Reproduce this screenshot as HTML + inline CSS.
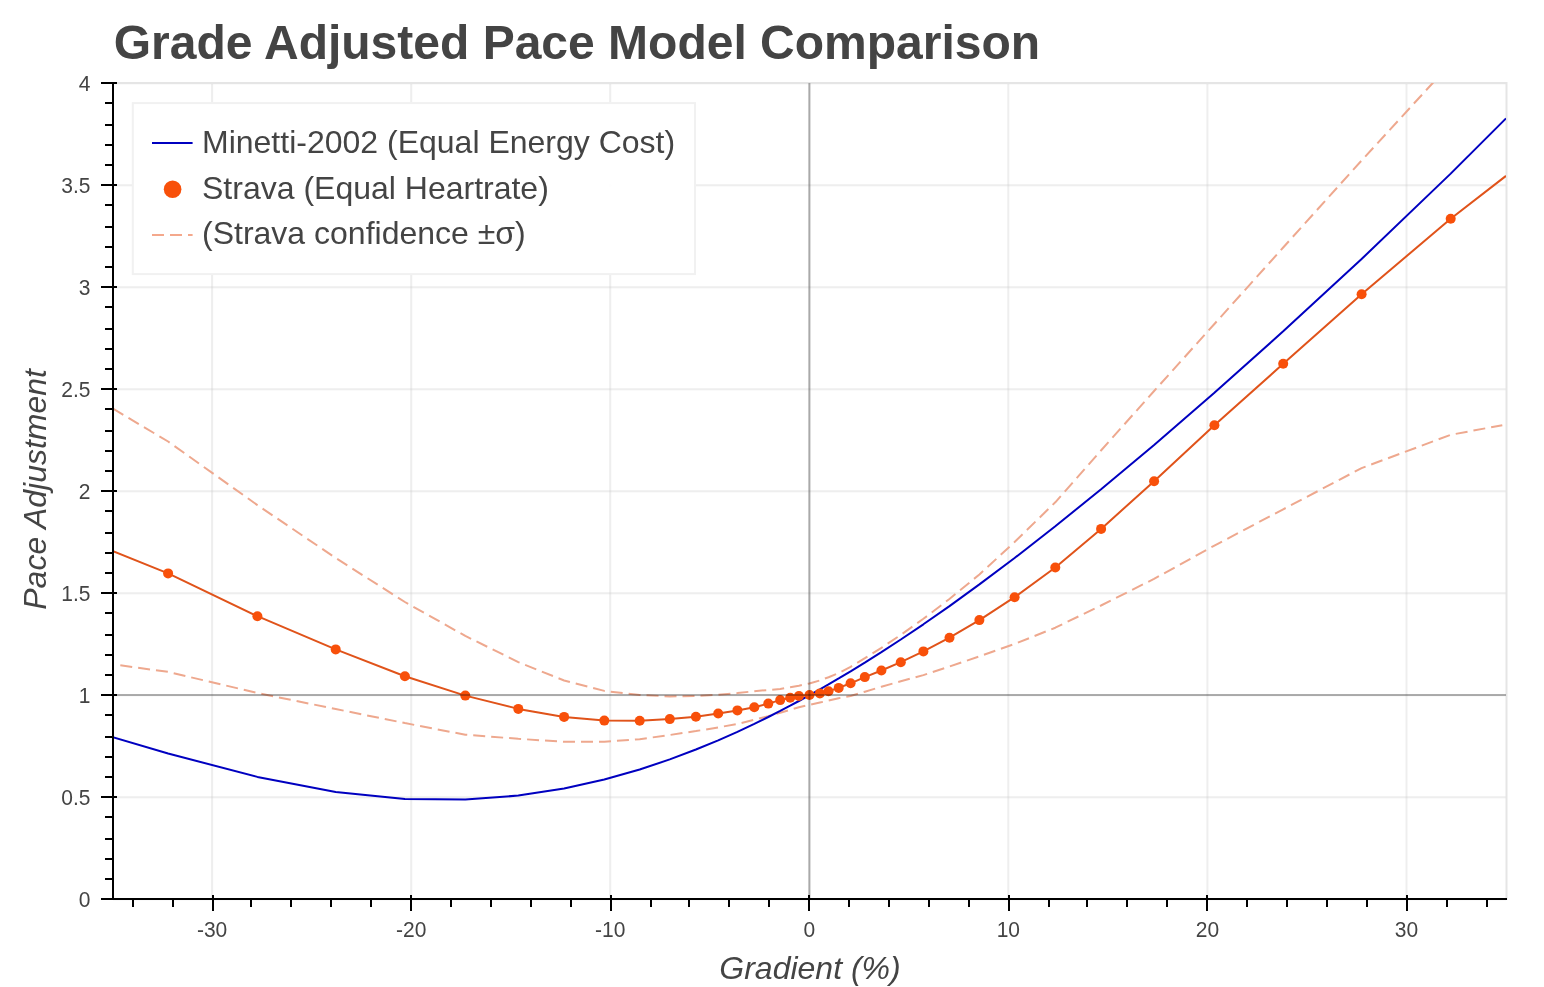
<!DOCTYPE html>
<html lang="en"><head><meta charset="utf-8">
<title>Grade Adjusted Pace Model Comparison</title>
<style>
html,body{margin:0;padding:0;background:#fff;}
body{width:1544px;height:987px;overflow:hidden;font-family:"Liberation Sans",sans-serif;}
svg{display:block;will-change:transform;}
text{font-family:"Liberation Sans",sans-serif;fill:#444;}
.tk{font-size:21px;}
.ax{font-size:32px;font-style:italic;}
.lg{font-size:32px;}
.ttl{font-size:48px;font-weight:bold;}
</style></head><body>
<svg width="1544" height="987" viewBox="0 0 1544 987">
<defs><clipPath id="fr"><rect x="113" y="83" width="1393" height="816"/></clipPath></defs>
<rect x="0" y="0" width="1544" height="987" fill="#ffffff"/>
<g stroke="#c8c8c8" stroke-opacity="0.31" stroke-width="2" fill="none">
<line x1="212.1" y1="83" x2="212.1" y2="899"/>
<line x1="411.2" y1="83" x2="411.2" y2="899"/>
<line x1="610.2" y1="83" x2="610.2" y2="899"/>
<line x1="809.3" y1="83" x2="809.3" y2="899"/>
<line x1="1008.3" y1="83" x2="1008.3" y2="899"/>
<line x1="1207.4" y1="83" x2="1207.4" y2="899"/>
<line x1="1406.5" y1="83" x2="1406.5" y2="899"/>
<line x1="113" y1="899.3" x2="1506" y2="899.3"/>
<line x1="113" y1="797.3" x2="1506" y2="797.3"/>
<line x1="113" y1="695.3" x2="1506" y2="695.3"/>
<line x1="113" y1="593.3" x2="1506" y2="593.3"/>
<line x1="113" y1="491.3" x2="1506" y2="491.3"/>
<line x1="113" y1="389.3" x2="1506" y2="389.3"/>
<line x1="113" y1="287.3" x2="1506" y2="287.3"/>
<line x1="113" y1="185.3" x2="1506" y2="185.3"/>
<line x1="113" y1="83.3" x2="1506" y2="83.3"/>
</g>
<rect x="113" y="83" width="1393.5" height="816" fill="none" stroke="#e5e5e5" stroke-width="2"/>
<g clip-path="url(#fr)" fill="none" stroke-linejoin="bevel">
<polyline id="up" points="113.0,408.7 168.1,441.5 257.4,505.1 335.7,558.0 404.9,602.0 465.3,635.9 518.3,662.1 564.1,680.5 604.3,690.9 639.7,695.0 669.8,696.4 695.9,696.0 718.2,694.7 737.4,693.1 754.3,691.2 768.3,690.0 780.2,689.0 790.2,687.3 798.9,685.7 809.4,683.5 819.9,680.4 828.6,677.2 838.6,673.1 850.6,666.8 864.9,658.2 881.4,647.8 900.8,634.9 923.4,618.8 949.4,599.0 979.4,574.5 1014.6,542.0 1055.3,502.3 1101.0,450.5 1154.1,391.0 1214.4,324.0 1283.2,247.5 1361.6,160.5 1432.3,83.5 1450.7,63.3" stroke="#eea88e" stroke-width="2" stroke-dasharray="12 6" stroke-dashoffset="0"/>
<polyline id="lo" points="120.3,665.3 168.1,671.9 257.4,693.0 335.7,709.0 404.9,723.1 465.3,734.7 518.3,738.8 564.1,741.8 604.3,741.8 639.7,739.2 669.8,735.0 695.9,731.1 718.2,727.4 737.4,724.0 754.3,719.7 768.3,716.2 780.2,712.7 790.2,709.9 798.9,707.2 809.4,704.9 819.9,702.5 828.6,700.6 838.6,698.2 850.6,696.0 864.9,691.7 881.4,686.7 900.8,681.3 923.4,675.1 949.4,666.6 979.4,656.3 1014.6,644.0 1055.3,627.7 1101.0,605.5 1154.0,578.9 1214.4,545.6 1283.2,509.3 1361.6,468.1 1450.7,434.8 1502.3,425.2" stroke="#eea88e" stroke-width="2" stroke-dasharray="12 6" stroke-dashoffset="0"/>
<polyline id="blue" points="112.6,737.2 168.1,753.5 257.4,776.9 335.7,791.9 404.9,799.0 465.3,799.6 518.3,795.6 564.1,788.5 604.3,779.5 639.7,769.5 669.8,759.4 695.9,749.5 718.2,740.3 737.4,731.8 754.3,723.8 768.3,717.0 780.2,710.9 790.2,705.7 798.9,701.0 809.5,695.2 819.9,689.3 828.5,684.4 838.7,678.4 850.6,671.3 864.8,662.6 881.4,652.1 900.8,639.5 923.4,624.3 949.5,606.1 979.4,584.4 1014.6,558.0 1055.3,526.3 1101.1,489.2 1154.1,444.9 1214.4,392.7 1283.2,331.3 1361.6,259.0 1450.7,173.6 1506.0,118.4" stroke="#0000c0" stroke-width="2"/>
<polyline id="st" points="113.0,551.2 168.1,573.4 257.4,616.2 335.7,649.4 404.9,676.2 465.3,695.6 518.3,708.9 564.1,716.9 604.3,720.6 639.7,720.7 669.8,719.1 695.9,716.7 718.2,713.5 737.4,710.4 754.3,707.2 768.3,703.6 780.2,700.1 790.2,697.7 798.9,696.0 809.5,695.0 819.9,693.4 828.5,691.2 838.7,687.9 850.6,683.3 864.8,677.1 881.4,670.5 900.8,662.2 923.4,651.4 949.5,637.7 979.4,620.1 1014.6,597.2 1055.3,567.5 1101.1,528.9 1154.1,481.2 1214.4,425.2 1283.2,363.8 1361.6,294.3 1450.7,218.7 1506.0,175.9" stroke="#e0531a" stroke-width="2"/>
<g fill="#f8500a" stroke="none">
<circle cx="168.1" cy="573.4" r="5"/>
<circle cx="257.4" cy="616.2" r="5"/>
<circle cx="335.7" cy="649.4" r="5"/>
<circle cx="404.9" cy="676.2" r="5"/>
<circle cx="465.3" cy="695.6" r="5"/>
<circle cx="518.3" cy="708.9" r="5"/>
<circle cx="564.1" cy="716.9" r="5"/>
<circle cx="604.3" cy="720.6" r="5"/>
<circle cx="639.7" cy="720.7" r="5"/>
<circle cx="669.8" cy="719.1" r="5"/>
<circle cx="695.9" cy="716.7" r="5"/>
<circle cx="718.2" cy="713.5" r="5"/>
<circle cx="737.4" cy="710.4" r="5"/>
<circle cx="754.3" cy="707.2" r="5"/>
<circle cx="768.3" cy="703.6" r="5"/>
<circle cx="780.2" cy="700.1" r="5"/>
<circle cx="790.2" cy="697.7" r="5"/>
<circle cx="798.9" cy="696.0" r="5"/>
<circle cx="809.5" cy="695.0" r="5"/>
<circle cx="819.9" cy="693.4" r="5"/>
<circle cx="828.5" cy="691.2" r="5"/>
<circle cx="838.7" cy="687.9" r="5"/>
<circle cx="850.6" cy="683.3" r="5"/>
<circle cx="864.8" cy="677.1" r="5"/>
<circle cx="881.4" cy="670.5" r="5"/>
<circle cx="900.8" cy="662.2" r="5"/>
<circle cx="923.4" cy="651.4" r="5"/>
<circle cx="949.5" cy="637.7" r="5"/>
<circle cx="979.4" cy="620.1" r="5"/>
<circle cx="1014.6" cy="597.2" r="5"/>
<circle cx="1055.3" cy="567.5" r="5"/>
<circle cx="1101.1" cy="528.9" r="5"/>
<circle cx="1154.1" cy="481.2" r="5"/>
<circle cx="1214.4" cy="425.2" r="5"/>
<circle cx="1283.2" cy="363.8" r="5"/>
<circle cx="1361.6" cy="294.3" r="5"/>
<circle cx="1450.7" cy="218.7" r="5"/>
</g>
<line x1="809.4" y1="83" x2="809.4" y2="899" stroke="#000" stroke-opacity="0.29" stroke-width="2"/>
<line x1="113" y1="695" x2="1506" y2="695" stroke="#000" stroke-opacity="0.29" stroke-width="2"/>
</g>
<g stroke="#000" stroke-width="2" fill="none">
<line x1="113" y1="82" x2="113" y2="900"/>
<line x1="112" y1="899" x2="1507" y2="899"/>
<line x1="101" y1="899.0" x2="117" y2="899.0"/>
<line x1="105" y1="879.0" x2="113" y2="879.0"/>
<line x1="105" y1="859.0" x2="113" y2="859.0"/>
<line x1="105" y1="839.0" x2="113" y2="839.0"/>
<line x1="105" y1="817.0" x2="113" y2="817.0"/>
<line x1="101" y1="797.0" x2="117" y2="797.0"/>
<line x1="105" y1="777.0" x2="113" y2="777.0"/>
<line x1="105" y1="757.0" x2="113" y2="757.0"/>
<line x1="105" y1="737.0" x2="113" y2="737.0"/>
<line x1="105" y1="715.0" x2="113" y2="715.0"/>
<line x1="101" y1="695.0" x2="117" y2="695.0"/>
<line x1="105" y1="675.0" x2="113" y2="675.0"/>
<line x1="105" y1="655.0" x2="113" y2="655.0"/>
<line x1="105" y1="635.0" x2="113" y2="635.0"/>
<line x1="105" y1="613.0" x2="113" y2="613.0"/>
<line x1="101" y1="593.0" x2="117" y2="593.0"/>
<line x1="105" y1="573.0" x2="113" y2="573.0"/>
<line x1="105" y1="553.0" x2="113" y2="553.0"/>
<line x1="105" y1="533.0" x2="113" y2="533.0"/>
<line x1="105" y1="511.0" x2="113" y2="511.0"/>
<line x1="101" y1="491.0" x2="117" y2="491.0"/>
<line x1="105" y1="471.0" x2="113" y2="471.0"/>
<line x1="105" y1="451.0" x2="113" y2="451.0"/>
<line x1="105" y1="431.0" x2="113" y2="431.0"/>
<line x1="105" y1="409.0" x2="113" y2="409.0"/>
<line x1="101" y1="389.0" x2="117" y2="389.0"/>
<line x1="105" y1="369.0" x2="113" y2="369.0"/>
<line x1="105" y1="349.0" x2="113" y2="349.0"/>
<line x1="105" y1="329.0" x2="113" y2="329.0"/>
<line x1="105" y1="307.0" x2="113" y2="307.0"/>
<line x1="101" y1="287.0" x2="117" y2="287.0"/>
<line x1="105" y1="267.0" x2="113" y2="267.0"/>
<line x1="105" y1="247.0" x2="113" y2="247.0"/>
<line x1="105" y1="227.0" x2="113" y2="227.0"/>
<line x1="105" y1="205.0" x2="113" y2="205.0"/>
<line x1="101" y1="185.0" x2="117" y2="185.0"/>
<line x1="105" y1="165.0" x2="113" y2="165.0"/>
<line x1="105" y1="145.0" x2="113" y2="145.0"/>
<line x1="105" y1="125.0" x2="113" y2="125.0"/>
<line x1="105" y1="103.0" x2="113" y2="103.0"/>
<line x1="101" y1="83.0" x2="117" y2="83.0"/>
<line x1="133.0" y1="899" x2="133.0" y2="907"/>
<line x1="173.0" y1="899" x2="173.0" y2="907"/>
<line x1="213.0" y1="895" x2="213.0" y2="911"/>
<line x1="251.0" y1="899" x2="251.0" y2="907"/>
<line x1="291.0" y1="899" x2="291.0" y2="907"/>
<line x1="331.0" y1="899" x2="331.0" y2="907"/>
<line x1="371.0" y1="899" x2="371.0" y2="907"/>
<line x1="411.0" y1="895" x2="411.0" y2="911"/>
<line x1="451.0" y1="899" x2="451.0" y2="907"/>
<line x1="491.0" y1="899" x2="491.0" y2="907"/>
<line x1="531.0" y1="899" x2="531.0" y2="907"/>
<line x1="571.0" y1="899" x2="571.0" y2="907"/>
<line x1="611.0" y1="895" x2="611.0" y2="911"/>
<line x1="651.0" y1="899" x2="651.0" y2="907"/>
<line x1="689.0" y1="899" x2="689.0" y2="907"/>
<line x1="729.0" y1="899" x2="729.0" y2="907"/>
<line x1="769.0" y1="899" x2="769.0" y2="907"/>
<line x1="809.0" y1="895" x2="809.0" y2="911"/>
<line x1="849.0" y1="899" x2="849.0" y2="907"/>
<line x1="889.0" y1="899" x2="889.0" y2="907"/>
<line x1="929.0" y1="899" x2="929.0" y2="907"/>
<line x1="969.0" y1="899" x2="969.0" y2="907"/>
<line x1="1009.0" y1="895" x2="1009.0" y2="911"/>
<line x1="1049.0" y1="899" x2="1049.0" y2="907"/>
<line x1="1087.0" y1="899" x2="1087.0" y2="907"/>
<line x1="1127.0" y1="899" x2="1127.0" y2="907"/>
<line x1="1167.0" y1="899" x2="1167.0" y2="907"/>
<line x1="1207.0" y1="895" x2="1207.0" y2="911"/>
<line x1="1247.0" y1="899" x2="1247.0" y2="907"/>
<line x1="1287.0" y1="899" x2="1287.0" y2="907"/>
<line x1="1327.0" y1="899" x2="1327.0" y2="907"/>
<line x1="1367.0" y1="899" x2="1367.0" y2="907"/>
<line x1="1407.0" y1="895" x2="1407.0" y2="911"/>
<line x1="1447.0" y1="899" x2="1447.0" y2="907"/>
<line x1="1487.0" y1="899" x2="1487.0" y2="907"/>
</g>
<g class="tk" text-anchor="end">
<text transform="translate(90.5,906.9) scale(1,1.05)" x="0" y="0">0</text>
<text transform="translate(90.5,804.9) scale(1,1.05)" x="0" y="0">0.5</text>
<text transform="translate(90.5,702.9) scale(1,1.05)" x="0" y="0">1</text>
<text transform="translate(90.5,600.9) scale(1,1.05)" x="0" y="0">1.5</text>
<text transform="translate(90.5,498.9) scale(1,1.05)" x="0" y="0">2</text>
<text transform="translate(90.5,396.9) scale(1,1.05)" x="0" y="0">2.5</text>
<text transform="translate(90.5,294.9) scale(1,1.05)" x="0" y="0">3</text>
<text transform="translate(90.5,192.9) scale(1,1.05)" x="0" y="0">3.5</text>
<text transform="translate(90.5,90.9) scale(1,1.05)" x="0" y="0">4</text>
</g>
<g class="tk" text-anchor="middle">
<text transform="translate(212.1,937.3) scale(1,1.05)" x="0" y="0">-30</text>
<text transform="translate(411.2,937.3) scale(1,1.05)" x="0" y="0">-20</text>
<text transform="translate(610.2,937.3) scale(1,1.05)" x="0" y="0">-10</text>
<text transform="translate(809.3,937.3) scale(1,1.05)" x="0" y="0">0</text>
<text transform="translate(1008.3,937.3) scale(1,1.05)" x="0" y="0">10</text>
<text transform="translate(1207.4,937.3) scale(1,1.05)" x="0" y="0">20</text>
<text transform="translate(1406.5,937.3) scale(1,1.05)" x="0" y="0">30</text>
</g>
<text class="ax" text-anchor="middle" x="810" y="978.5">Gradient (%)</text>
<text class="ax" text-anchor="middle" transform="translate(46,489.4) rotate(-90)">Pace Adjustment</text>
<text class="ttl" x="113.7" y="58.8">Grade Adjusted Pace Model Comparison</text>
<rect x="132.8" y="103.1" width="562.2" height="171" fill="#fff" fill-opacity="0.95" stroke="#f1f1f1" stroke-width="2"/>
<line x1="152" y1="143" x2="192.6" y2="143" stroke="#0000c0" stroke-width="2"/>
<circle cx="172.6" cy="189.2" r="8.8" fill="#f8500a"/>
<line x1="152" y1="235" x2="192.6" y2="235" stroke="#f4a88c" stroke-width="2" stroke-dasharray="12 6"/>
<g class="lg">
<text x="202" y="153">Minetti-2002 (Equal Energy Cost)</text>
<text x="202" y="198.6">Strava (Equal Heartrate)</text>
<text x="202" y="244.4">(Strava confidence ±σ)</text>
</g>
</svg>
</body></html>
